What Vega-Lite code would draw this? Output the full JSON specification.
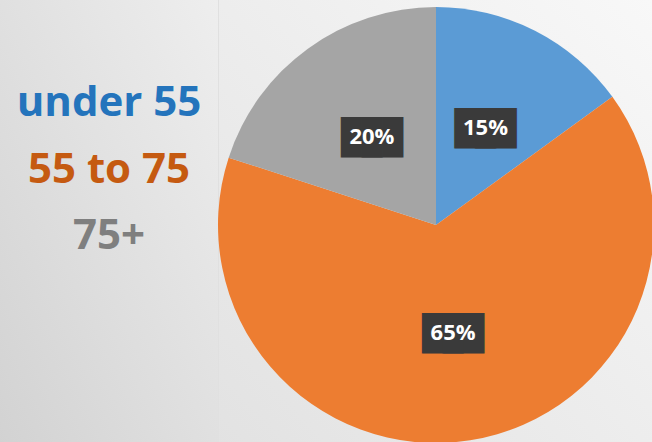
{
  "$schema": "https://vega.github.io/schema/vega-lite/v6.json",
  "padding": 0,
  "spacing": 0,
  "background": "#e0e0e0",
  "config": {"view": {"stroke": null}},
  "resolve": {"scale": {"color": "independent"}},
  "datasets": {
    "ages": [
      {"group": "under 55", "share": 15, "order": 1, "label": "15%"},
      {"group": "55 to 75", "share": 65, "order": 2, "label": "65%"},
      {"group": "75+", "share": 20, "order": 3, "label": "20%"}
    ]
  },
  "hconcat": [
    {
      "width": 218,
      "height": 450,
      "view": {"stroke": null, "fill": {"gradient": "linear", "x1": 1, "y1": 0, "x2": 0, "y2": 1, "stops": [{"offset": 0, "color": "#eeeeee"}, {"offset": 1, "color": "#d2d2d2"}]}},
      "data": {"name": "ages"},
      "mark": {"type": "text", "font": "Open Sans", "fontWeight": 700, "fontSize": 42, "align": "center", "baseline": "middle"},
      "encoding": {
        "y": {"field": "order", "type": "quantitative", "scale": {"domain": [-0.549, 6.218], "reverse": true, "nice": false, "zero": false}, "axis": null},
        "text": {"field": "group", "type": "nominal"},
        "color": {"field": "group", "type": "nominal", "scale": {"domain": ["under 55", "55 to 75", "75+"], "range": ["#2474BC", "#C55A11", "#7F7F7F"]}, "legend": null}
      }
    },
    {
      "width": 434,
      "height": 450,
      "view": {"stroke": null, "fill": {"gradient": "linear", "x1": 1, "y1": 0, "x2": 0, "y2": 1, "stops": [{"offset": 0, "color": "#f8f8f8"}, {"offset": 1, "color": "#e2e2e2"}]}},
      "data": {"name": "ages"},
      "encoding": {
        "theta": {"field": "share", "type": "quantitative", "stack": true},
        "order": {"field": "order", "type": "quantitative"}
      },
      "layer": [
        {
          "mark": {"type": "arc", "radius": 218},
          "encoding": {
            "color": {"field": "group", "type": "nominal", "scale": {"domain": ["under 55", "55 to 75", "75+"], "range": ["#5B9BD5", "#ED7D31", "#A5A5A5"]}, "legend": null}
          }
        },
        {
          "mark": {"type": "text", "radius": 109, "font": "DejaVu Sans Mono", "fontSize": 34, "text": "██", "dx": -10.5, "dy": 12.5, "align": "center", "baseline": "alphabetic", "color": "#3a3a3a"}
        },
        {
          "mark": {"type": "text", "radius": 109, "font": "DejaVu Sans Mono", "fontSize": 34, "text": "██", "dx": 10.5, "dy": 12.5, "align": "center", "baseline": "alphabetic", "color": "#3a3a3a"}
        },
        {
          "mark": {"type": "text", "radius": 109, "font": "Open Sans", "fontWeight": 700, "fontSize": 22, "align": "center", "baseline": "middle", "color": "#ffffff"},
          "encoding": {"text": {"field": "label", "type": "nominal"}}
        }
      ]
    }
  ]
}
